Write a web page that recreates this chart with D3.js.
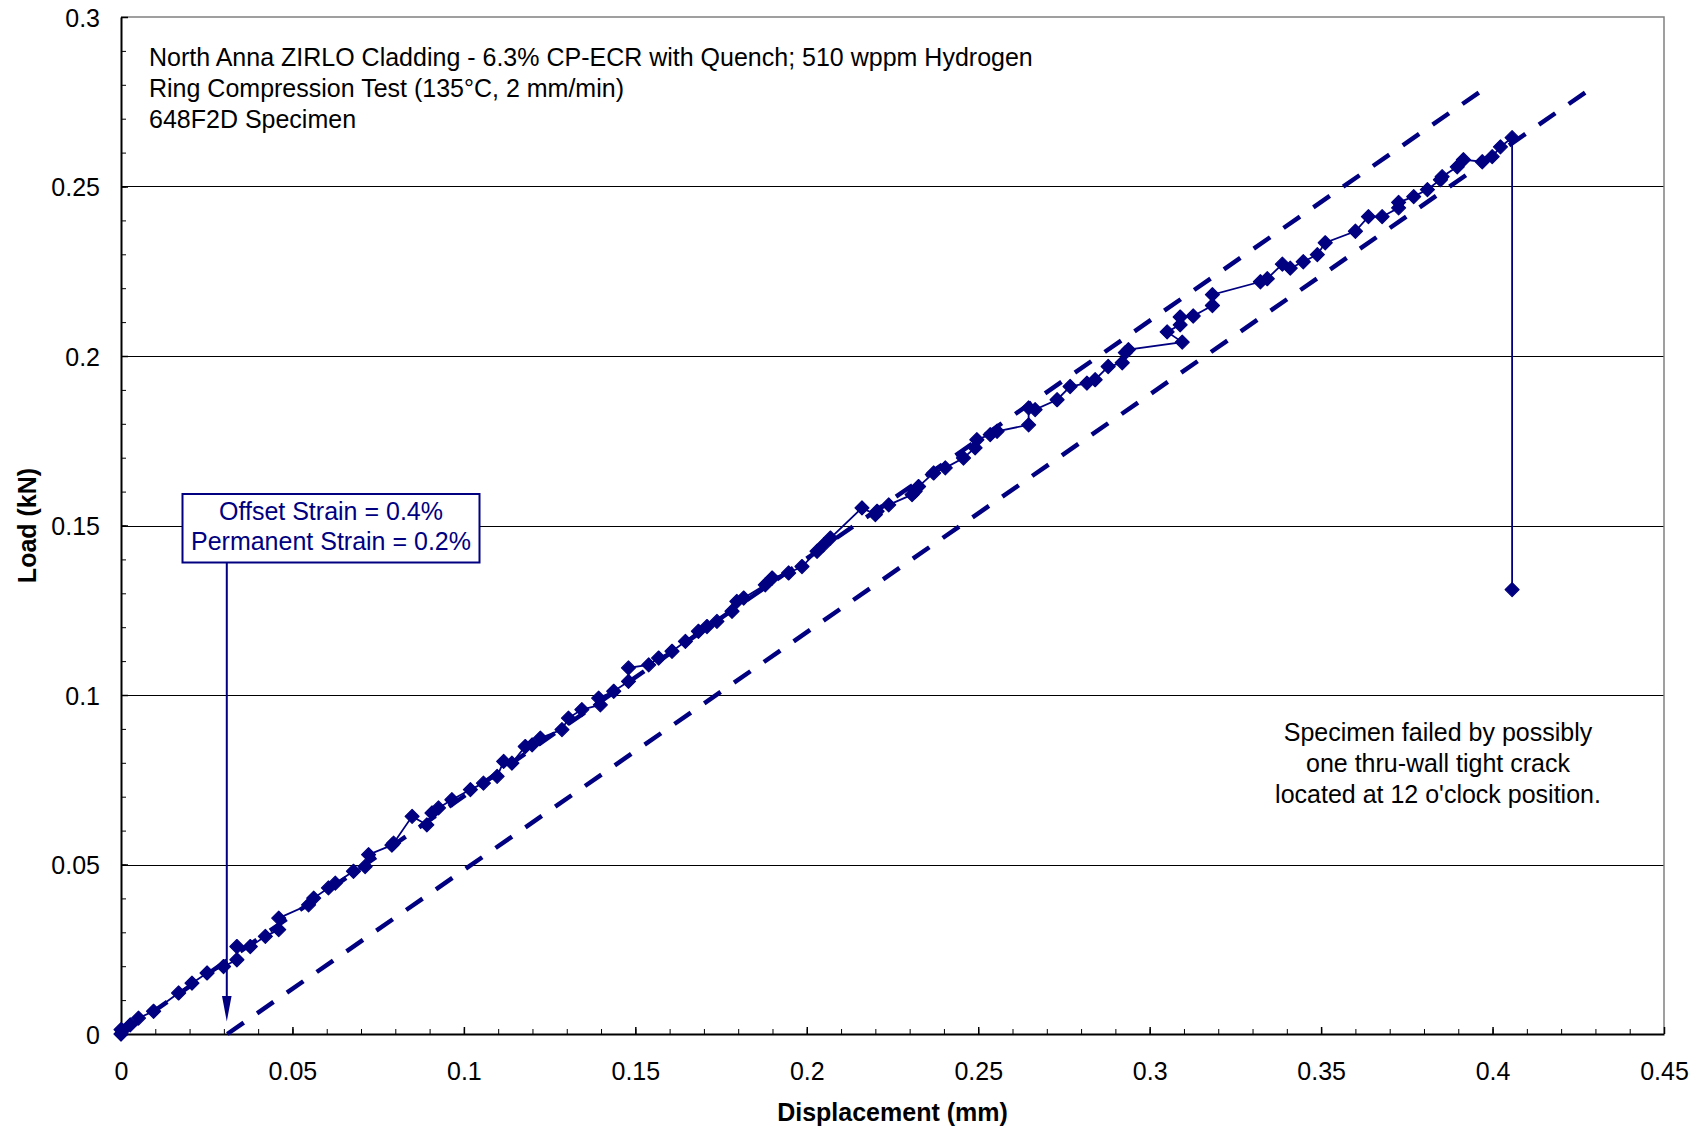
<!DOCTYPE html>
<html>
<head>
<meta charset="utf-8">
<script src="https://cdn.jsdelivr.net/npm/d3@7/dist/d3.min.js"></script>
<style>
  html, body { margin: 0; padding: 0; background: #fff; }
  svg { display: block; font-family: "Liberation Sans", Arial, sans-serif; }
</style>
</head>
<body>
<svg id="chart" width="1707" height="1130"></svg>
<script>
// Ring compression test record: displacement (mm) vs load (kN)
const displacement = [
  0, 0, 0.0005, 0.0027, 0.0051, 0.0095, 0.0168, 0.0207, 0.0251, 0.0299,
  0.0338, 0.0338, 0.0377, 0.0421, 0.0460, 0.0460, 0.0547, 0.0562, 0.0605, 0.0625,
  0.0678, 0.0712, 0.0722, 0.0790, 0.0795, 0.0849, 0.0892, 0.0907, 0.0926, 0.0965,
  0.1019, 0.1057, 0.1097, 0.1116, 0.1140, 0.1179, 0.1199, 0.1223, 0.1286, 0.1305,
  0.1344, 0.1398, 0.1393, 0.1437, 0.1480, 0.1480, 0.1539, 0.1568, 0.1607, 0.1646,
  0.1684, 0.1709, 0.1738, 0.1782, 0.1796, 0.1816, 0.1879, 0.1899, 0.1947, 0.1986,
  0.2030, 0.2049, 0.2069, 0.2161, 0.2200, 0.2205, 0.2239, 0.2307, 0.2316, 0.2326,
  0.2370, 0.2404, 0.2457, 0.2491, 0.2496, 0.2535, 0.2555, 0.2647, 0.2647, 0.2666,
  0.2730, 0.2768, 0.2817, 0.2841, 0.2879, 0.2920, 0.2929, 0.2938, 0.3095, 0.3051,
  0.3089, 0.3089, 0.3127, 0.3183, 0.3183, 0.3323, 0.3343, 0.3387, 0.3410, 0.3448,
  0.3489, 0.3512, 0.3600, 0.3638, 0.3678, 0.3726, 0.3726, 0.3770, 0.3810, 0.3848,
  0.3853, 0.3897, 0.3915, 0.3970, 0.3999, 0.4023, 0.4057, 0.4057
];
const load = [
  0, 0.0013, 0.0010, 0.0027, 0.0047, 0.0067, 0.0121, 0.0150, 0.0180, 0.0199,
  0.0219, 0.0258, 0.0258, 0.0288, 0.0308, 0.0342, 0.0381, 0.0401, 0.0431, 0.0445,
  0.0480, 0.0494, 0.0529, 0.0557, 0.0563, 0.0642, 0.0617, 0.0652, 0.0667, 0.0691,
  0.0721, 0.0740, 0.0760, 0.0804, 0.0799, 0.0848, 0.0853, 0.0873, 0.0898, 0.0932,
  0.0957, 0.0971, 0.0991, 0.1011, 0.1040, 0.1080, 0.1089, 0.1109, 0.1129, 0.1158,
  0.1188, 0.1202, 0.1217, 0.1247, 0.1276, 0.1286, 0.1325, 0.1345, 0.1360, 0.1379,
  0.1424, 0.1443, 0.1463, 0.1552, 0.1532, 0.1542, 0.1561, 0.1591, 0.1601, 0.1615,
  0.1655, 0.1670, 0.1699, 0.1729, 0.1753, 0.1768, 0.1778, 0.1797, 0.1847, 0.1842,
  0.1871, 0.1910, 0.1920, 0.1930, 0.1969, 0.1980, 0.2010, 0.2019, 0.2041, 0.2071,
  0.2092, 0.2115, 0.2118, 0.2149, 0.2181, 0.2219, 0.2228, 0.2271, 0.2259, 0.2278,
  0.2299, 0.2334, 0.2368, 0.2411, 0.2411, 0.2437, 0.2453, 0.2470, 0.2491, 0.2520,
  0.2529, 0.2558, 0.2579, 0.2573, 0.2588, 0.2617, 0.2644, 0.1311
];

// Elastic loading line and its parallel offset line
const elasticX = [0, 0.396];
const elasticY = [0, 0.2777];
const offsetX = [0.031, 0.427];
const offsetY = [0, 0.2777];
const offsetDisplacement = 0.031;

// Axis ticks and labels
const xTicks = [0, 0.05, 0.1, 0.15, 0.2, 0.25, 0.3, 0.35, 0.4, 0.45];
const xTickLabels = ["0", "0.05", "0.1", "0.15", "0.2", "0.25", "0.3", "0.35", "0.4", "0.45"];
const yTicks = [0, 0.05, 0.1, 0.15, 0.2, 0.25, 0.3];
const yTickLabels = ["0", "0.05", "0.1", "0.15", "0.2", "0.25", "0.3"];
const xMinorTicks = d3.range(0, 46).map(i => i / 100);
const yMinorTicks = d3.range(0, 31).map(i => i / 100);

const titleLines = [
  "North Anna ZIRLO Cladding - 6.3% CP-ECR with Quench; 510 wppm Hydrogen",
  "Ring Compression Test (135\u00B0C, 2 mm/min)",
  "648F2D Specimen"
];
const strainLines = ["Offset Strain = 0.4%", "Permanent Strain = 0.2%"];
const failureLines = [
  "Specimen failed by possibly",
  "one thru-wall tight crack",
  "located at 12 o'clock position."
];

const NAVY = "#000080";
const FONT = 25;
const plotLeft = 121, plotRight = 1664, plotTop = 17, plotBottom = 1034;

const svg = d3.select("#chart");
svg.append("rect").attr("width", 1707).attr("height", 1130).attr("fill", "#fff");

const x = d3.scaleLinear().domain([0, 0.45]).range([plotLeft, plotRight]);
const y = d3.scaleLinear().domain([0, 0.3]).range([plotBottom, plotTop]);

// Horizontal gridlines
svg.append("g").selectAll("line")
  .data(yTicks.filter(v => v > 0 && v < 0.3))
  .join("line")
  .attr("x1", plotLeft).attr("x2", plotRight)
  .attr("y1", d => Math.round(y(d)) + 0.5).attr("y2", d => Math.round(y(d)) + 0.5)
  .attr("stroke", "#000").attr("stroke-width", 1.2);

// Plot frame (top and right)
svg.append("path")
  .attr("d", `M${plotLeft},${plotTop}H${plotRight}V${plotBottom}`)
  .attr("fill", "none").attr("stroke", "#808080").attr("stroke-width", 1.5);

// Minor ticks
svg.append("g").attr("transform", `translate(0,${plotBottom})`)
  .call(d3.axisBottom(x).tickValues(xMinorTicks).tickFormat("").tickSizeInner(-5).tickSizeOuter(0))
  .call(g => g.select(".domain").remove())
  .call(g => g.selectAll("line").attr("stroke", "#000").attr("stroke-width", 1));
svg.append("g").attr("transform", `translate(${plotLeft},0)`)
  .call(d3.axisLeft(y).tickValues(yMinorTicks).tickFormat("").tickSizeInner(-5).tickSizeOuter(0))
  .call(g => g.select(".domain").remove())
  .call(g => g.selectAll("line").attr("stroke", "#000").attr("stroke-width", 1));

// Major axes
const xAxis = svg.append("g").attr("transform", `translate(0,${plotBottom})`)
  .call(d3.axisBottom(x).tickValues(xTicks).tickFormat((d, i) => xTickLabels[i]).tickSizeInner(-7).tickSizeOuter(0));
xAxis.select(".domain").attr("stroke", "#000").attr("stroke-width", 2);
xAxis.selectAll("line").attr("stroke", "#000").attr("stroke-width", 1.5);
xAxis.selectAll("text").attr("y", 46).attr("dy", null)
  .attr("font-size", FONT).attr("font-family", "Liberation Sans, Arial, sans-serif").attr("fill", "#000");

const yAxis = svg.append("g").attr("transform", `translate(${plotLeft},0)`)
  .call(d3.axisLeft(y).tickValues(yTicks).tickFormat((d, i) => yTickLabels[i]).tickSizeInner(-7).tickSizeOuter(0));
yAxis.select(".domain").attr("stroke", "#000").attr("stroke-width", 2);
yAxis.selectAll("line").attr("stroke", "#000").attr("stroke-width", 1.5);
yAxis.selectAll("text").attr("x", -21).attr("dy", "0.36em")
  .attr("font-size", FONT).attr("font-family", "Liberation Sans, Arial, sans-serif").attr("fill", "#000");

// Axis titles
svg.append("text")
  .attr("x", (plotLeft + plotRight) / 2).attr("y", 1121)
  .attr("text-anchor", "middle").attr("font-size", FONT).attr("font-weight", "bold")
  .text("Displacement (mm)");
svg.append("text")
  .attr("transform", `translate(36,${(plotTop + plotBottom) / 2}) rotate(-90)`)
  .attr("text-anchor", "middle").attr("font-size", FONT).attr("font-weight", "bold")
  .text("Load (kN)");

// Dashed reference lines: the gap is stretched a little so each line
// begins and ends on a full dash
const seg = d3.line().x(d => x(d[0])).y(d => y(d[1]));
const DASH = 20, GAP = 16;
[[elasticX, elasticY], [offsetX, offsetY]].forEach(([xs, ys]) => {
  const dx = x(xs[1]) - x(xs[0]), dy = y(ys[1]) - y(ys[0]);
  const len = Math.hypot(dx, dy);
  const n = Math.round((len - DASH) / (DASH + GAP));
  const gap = (len - DASH) / n - DASH;
  svg.append("path")
    .attr("d", seg(xs.map((v, i) => [v, ys[i]])))
    .attr("fill", "none").attr("stroke", NAVY).attr("stroke-width", 4.5)
    .attr("stroke-dasharray", `${DASH},${gap.toFixed(3)}`);
});

// Measured curve
const pts = displacement.map((d, i) => [d, load[i]]);
svg.append("path")
  .attr("d", seg(pts))
  .attr("fill", "none").attr("stroke", NAVY).attr("stroke-width", 1.8);

const r = 7;
svg.append("g").selectAll("path")
  .data(pts)
  .join("path")
  .attr("d", `M0,${-r}L${r},0L0,${r}L${-r},0Z`)
  .attr("transform", d => `translate(${x(d[0])},${y(d[1])})`)
  .attr("fill", NAVY).attr("stroke", NAVY).attr("stroke-width", 1.2)
  .attr("stroke-linejoin", "round");

// Header text
svg.append("g").selectAll("text")
  .data(titleLines)
  .join("text")
  .attr("x", 149).attr("y", (d, i) => 65.5 + i * 31)
  .attr("font-size", FONT).attr("fill", "#000")
  .text(d => d);

// Strain annotation box with arrow to the offset point
const boxX = 182.5, boxY = 494, boxW = 297, boxH = 68.5;
const ax = x(offsetDisplacement) - 0.5;
svg.append("line")
  .attr("x1", ax).attr("x2", ax)
  .attr("y1", boxY + boxH).attr("y2", y(0) - 36)
  .attr("stroke", NAVY).attr("stroke-width", 2);
svg.append("path")
  .attr("d", `M${ax - 4.8},${y(0) - 38}L${ax + 4.8},${y(0) - 38}L${ax},${y(0) - 12.5}Z`)
  .attr("fill", NAVY);
svg.append("rect")
  .attr("x", boxX).attr("y", boxY).attr("width", boxW).attr("height", boxH)
  .attr("fill", "#fff").attr("stroke", NAVY).attr("stroke-width", 2);
svg.append("g").selectAll("text")
  .data(strainLines)
  .join("text")
  .attr("x", boxX + boxW / 2).attr("y", (d, i) => 519.5 + i * 30.5)
  .attr("text-anchor", "middle").attr("font-size", FONT).attr("fill", NAVY)
  .text(d => d);

// Failure note
svg.append("g").selectAll("text")
  .data(failureLines)
  .join("text")
  .attr("x", 1438).attr("y", (d, i) => 741 + i * 31)
  .attr("text-anchor", "middle").attr("font-size", FONT).attr("fill", "#000")
  .text(d => d);
</script>
</body>
</html>
